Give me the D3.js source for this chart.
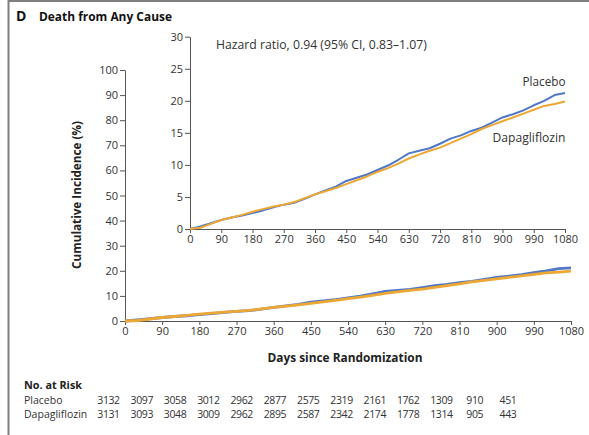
<!DOCTYPE html>
<html>
<head>
<meta charset="utf-8">
<script src="https://cdn.jsdelivr.net/npm/d3@7"></script>
<style>
  body { margin: 0; background: #fff; }
  svg { display: block; }
  text { font-family: "Open Sans", Lato, sans-serif; fill: #333; }
</style>
</head>
<body>
<svg id="chart" width="589" height="435"></svg>
<script>
// Kaplan-Meier cumulative incidence of death from any cause (%), sampled every 30 days
const days = [0, 30, 60, 90, 120, 150, 180, 210, 240, 270, 300, 330, 360, 390, 420, 450, 480, 510, 540,
  570, 600, 630, 660, 690, 720, 750, 780, 810, 840, 870, 900, 930, 960, 990, 1020, 1050, 1080];
const placebo = [0, 0.4, 0.9, 1.4, 1.8, 2.1, 2.5, 2.9, 3.4, 3.8, 4.1, 4.7, 5.4, 6.0, 6.6, 7.5, 8.0, 8.5, 9.2,
  9.9, 10.8, 11.8, 12.2, 12.6, 13.3, 14.1, 14.6, 15.3, 15.8, 16.6, 17.4, 17.9, 18.5, 19.3, 20.0, 20.9, 21.2];
const dapagliflozin = [0, 0.2, 0.8, 1.4, 1.8, 2.2, 2.7, 3.1, 3.5, 3.8, 4.2, 4.8, 5.4, 5.9, 6.4, 7.0, 7.6, 8.2, 8.9,
  9.5, 10.2, 11.0, 11.6, 12.2, 12.7, 13.4, 14.1, 14.8, 15.6, 16.2, 16.8, 17.4, 18.0, 18.6, 19.2, 19.5, 19.9];

const dayTicks = [0, 90, 180, 270, 360, 450, 540, 630, 720, 810, 900, 990, 1080];
const mainYTicks = [0, 10, 20, 30, 40, 50, 60, 70, 80, 90, 100];
const insetYTicks = [0, 5, 10, 15, 20, 25, 30];

// Number at risk at each tick day
const riskGroups = ["Placebo", "Dapagliflozin"];
const riskPlacebo = [3132, 3097, 3058, 3012, 2962, 2877, 2575, 2319, 2161, 1762, 1309, 910, 451];
const riskDapagliflozin = [3131, 3093, 3048, 3009, 2962, 2895, 2587, 2342, 2174, 1778, 1314, 905, 443];

const hazardText = "Hazard ratio, 0.94 (95% CI, 0.83\u20131.07)";

const colors = { placebo: "#5078c6", dapagliflozin: "#eda734" };
const axisColor = "#555";

const svg = d3.select("#chart");

// Scale a label's font size so that it spans the given width
function fitWidth(sel, width) {
  const size = +sel.attr("font-size");
  const w = sel.node().getComputedTextLength();
  if (w > 0) sel.attr("font-size", (size * width / w).toFixed(2));
  return sel;
}

// Panel frame
svg.append("line").attr("x1", 8.5).attr("x2", 8.5).attr("y1", 0).attr("y2", 435)
  .attr("stroke", "#7f7f7f").attr("stroke-width", 2);
svg.append("line").attr("x1", 8).attr("x2", 589).attr("y1", 1).attr("y2", 1)
  .attr("stroke", "#7f7f7f").attr("stroke-width", 2);

// Panel title
svg.append("text").attr("x", 16).attr("y", 21).attr("font-size", 14).attr("font-weight", 700)
  .style("fill", "#111").text("D");
fitWidth(svg.append("text").attr("x", 39).attr("y", 20.5).attr("font-size", 12).attr("font-weight", 700)
  .style("fill", "#111").text("Death from Any Cause"), 133);

function styleAxis(g) {
  g.select(".domain").attr("stroke", axisColor).attr("stroke-width", 1);
  g.selectAll(".tick line").attr("stroke", axisColor);
  g.selectAll(".tick text").attr("font-family", "'Open Sans', sans-serif").attr("font-size", 11).style("fill", "#333");
}

function drawPanel(xRange, yRange, yDomain, yTicks, lineWidth) {
  const x = d3.scaleLinear().domain([0, 1080]).range(xRange);
  const y = d3.scaleLinear().domain(yDomain).range(yRange);

  svg.append("g").attr("transform", `translate(0,${yRange[0]})`)
    .call(d3.axisBottom(x).tickValues(dayTicks).tickFormat(d3.format("d"))
      .tickSize(4).tickSizeOuter(0).tickPadding(2))
    .call(styleAxis);
  svg.append("g").attr("transform", `translate(${xRange[0]},0)`)
    .call(d3.axisLeft(y).tickValues(yTicks).tickFormat(d3.format("d"))
      .tickSize(5).tickSizeOuter(0).tickPadding(2))
    .call(styleAxis);

  const line = d3.line().x((d, i) => x(days[i])).y(d => y(d));
  svg.append("path").datum(placebo).attr("d", line).attr("fill", "none")
    .attr("stroke", colors.placebo).attr("stroke-width", lineWidth).attr("stroke-linejoin", "round");
  svg.append("path").datum(dapagliflozin).attr("d", line).attr("fill", "none")
    .attr("stroke", colors.dapagliflozin).attr("stroke-width", lineWidth).attr("stroke-linejoin", "round");
  return { x, y };
}

// Full-scale panel
drawPanel([125, 571], [321, 70], [0, 100], mainYTicks, 2.8);

// Inset with expanded y axis
drawPanel([190, 565], [229, 36.7], [0, 30], insetYTicks, 2);

fitWidth(svg.append("text").attr("x", 216).attr("y", 49).attr("font-size", 12).text(hazardText), 211);
fitWidth(svg.append("text").attr("x", 565.5).attr("y", 86).attr("font-size", 12)
  .attr("text-anchor", "end").text("Placebo"), 43);
fitWidth(svg.append("text").attr("x", 565.5).attr("y", 142).attr("font-size", 12)
  .attr("text-anchor", "end").text("Dapagliflozin"), 73);

// Axis titles
fitWidth(svg.append("text").attr("x", 345).attr("y", 362).attr("font-size", 12).attr("font-weight", 700)
  .attr("text-anchor", "middle").style("fill", "#222").text("Days since Randomization"), 155);
fitWidth(svg.append("text").attr("transform", "translate(81,195) rotate(-90)").attr("font-size", 11.5)
  .attr("font-weight", 700).attr("text-anchor", "middle").style("fill", "#222")
  .text("Cumulative Incidence (%)"), 148);

// Number-at-risk table
fitWidth(svg.append("text").attr("x", 24).attr("y", 389).attr("font-size", 11).attr("font-weight", 700)
  .style("fill", "#222").text("No. at Risk"), 58);
const riskX = d3.scalePoint().domain(dayTicks).range([108.5, 508]);
const riskRows = [riskPlacebo, riskDapagliflozin];
const rowY = [403.5, 418];
riskRows.forEach((row, r) => {
  svg.append("text").attr("x", 24).attr("y", rowY[r]).attr("font-size", 10.5).text(riskGroups[r]);
  svg.append("g").selectAll("text").data(row).join("text")
    .attr("x", (d, i) => riskX(dayTicks[i])).attr("y", rowY[r])
    .attr("text-anchor", "middle").attr("font-size", 10.5).attr("letter-spacing", -0.4)
    .text(d => d);
});
</script>
</body>
</html>
